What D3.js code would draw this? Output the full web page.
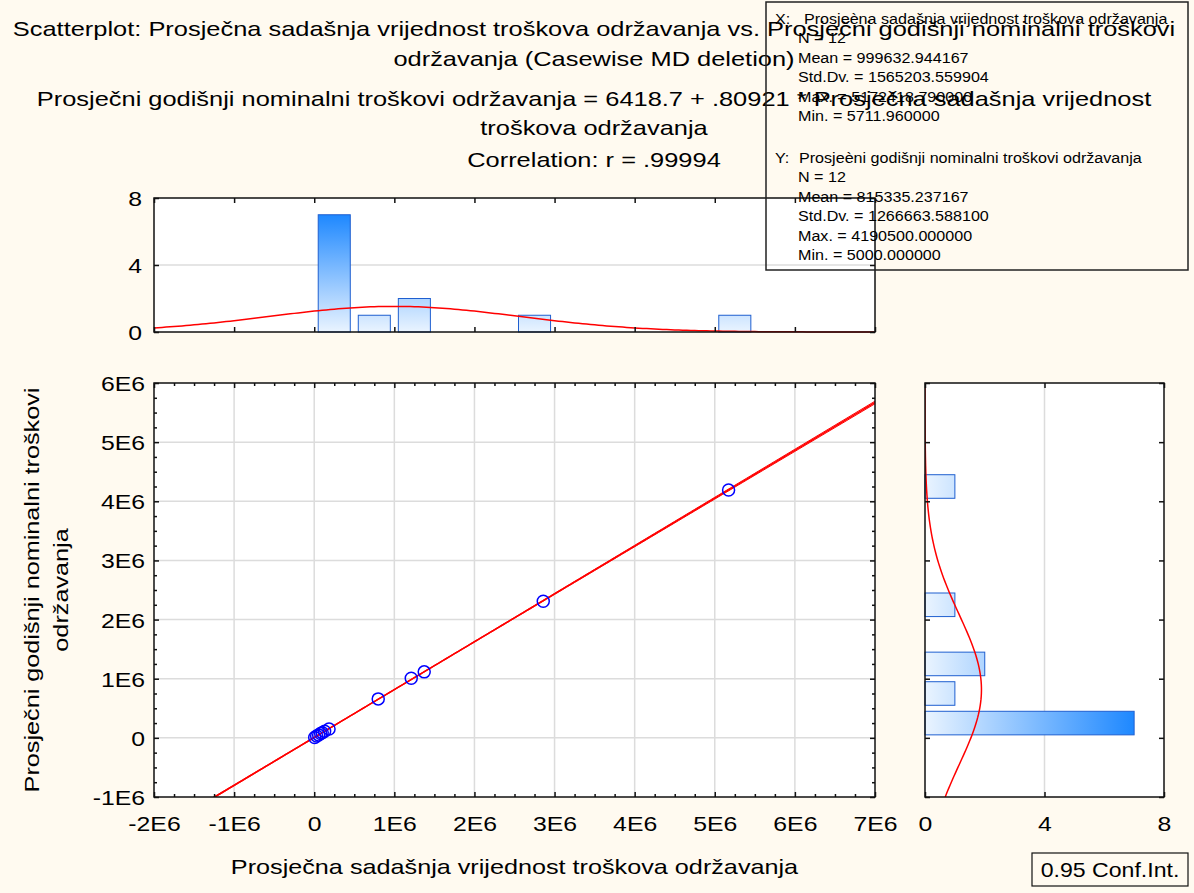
<!DOCTYPE html>
<html lang="en">
<head>
<meta charset="UTF-8">
<title>Scatterplot</title>
<script src="https://d3js.org/d3.v7.min.js"></script>
<style>
    body { margin: 0; background: #fffaf0; }
    svg { display: block; font-family: "Liberation Sans", Arial, sans-serif; }
</style>
</head>
<body>
<svg id="chart" width="1194" height="893"></svg>
<script>
// values
const xValues = [5712, 30000, 55000, 80000, 100000, 130000, 185000, 799000, 1211000, 1373000, 2859000, 5172419];
const yValues = [5000, 30000, 50000, 72000, 88000, 112000, 150000, 659000, 1008000, 1116000, 2310000, 4190500];

const fitIntercept = 6418.7;
const fitSlope = 0.80921;
const xMean = 999632.944167, xSd = 1565203.559904;
const yMean = 815335.237167, ySd = 1266663.588100;
const tCrit = 2.228;

const xTicks = [-2e6, -1e6, 0, 1e6, 2e6, 3e6, 4e6, 5e6, 6e6, 7e6];
const yTicks = [-1e6, 0, 1e6, 2e6, 3e6, 4e6, 5e6, 6e6];
const countTicks = [0, 4, 8];
const binWidth = 5e5;

const titleLines = [
    "Scatterplot: Prosječna sadašnja vrijednost troškova održavanja vs. Prosječni godišnji nominalni troškovi",
    "održavanja (Casewise MD deletion)",
    "Prosječni godišnji nominalni troškovi održavanja = 6418.7 + .80921 * Prosječna sadašnja vrijednost",
    "troškova održavanja",
    "Correlation: r = .99994"
];
const xLabel = "Prosječna sadašnja vrijednost troškova održavanja";
const yLabelLines = ["Prosječni godišnji nominalni troškovi", "održavanja"];
const xStatsName = "Prosjeèna sadašnja vrijednost troškova održavanja";
const yStatsName = "Prosjeèni godišnji nominalni troškovi održavanja";
const xStatsLines = ["N = 12", "Mean = 999632.944167", "Std.Dv. = 1565203.559904", "Max. = 5172418.790000", "Min. = 5711.960000"];
const yStatsLines = ["N = 12", "Mean = 815335.237167", "Std.Dv. = 1266663.588100", "Max. = 4190500.000000", "Min. = 5000.000000"];
const confLabel = "0.95 Conf.Int.";

function program() {
    const svg = d3.select("#chart");
    const defs = svg.append("defs");

    const x = d3.scaleLinear([-2e6, 7e6], [154, 875]);
    const y = d3.scaleLinear([-1e6, 6e6], [797, 383]);
    const yc = d3.scaleLinear([0, 8], [332, 198]);   // top histogram counts
    const xc = d3.scaleLinear([0, 8], [925, 1164]);  // right histogram counts

    const fmtE = d => d === 0 ? "0" : (d / 1e6) + "E6";
    const gridColor = "#dcdcdc";

    // wider-than-Arial text, as in the original
    function stretch(sel, k) {
        sel.each(function () {
            const w = this.getComputedTextLength();
            this.setAttribute("textLength", w * k);
            this.setAttribute("lengthAdjust", "spacingAndGlyphs");
        });
    }

    // white plot areas
    svg.append("rect").attr("x", x.range()[0]).attr("y", yc.range()[1])
        .attr("width", x.range()[1] - x.range()[0]).attr("height", yc.range()[0] - yc.range()[1]).attr("fill", "white");
    svg.append("rect").attr("x", x.range()[0]).attr("y", y.range()[1])
        .attr("width", x.range()[1] - x.range()[0]).attr("height", y.range()[0] - y.range()[1]).attr("fill", "white");
    svg.append("rect").attr("x", xc.range()[0]).attr("y", y.range()[1])
        .attr("width", xc.range()[1] - xc.range()[0]).attr("height", y.range()[0] - y.range()[1]).attr("fill", "white");

    defs.append("clipPath").attr("id", "clipMain").append("rect")
        .attr("x", x.range()[0]).attr("y", y.range()[1])
        .attr("width", x.range()[1] - x.range()[0]).attr("height", y.range()[0] - y.range()[1]);
    defs.append("clipPath").attr("id", "clipRight").append("rect")
        .attr("x", xc.range()[0]).attr("y", y.range()[1])
        .attr("width", xc.range()[1] - xc.range()[0]).attr("height", y.range()[0] - y.range()[1]);

    // gridlines
    const grid = svg.append("g").attr("stroke", gridColor).attr("stroke-width", 1.5);
    grid.selectAll(".gx").data(xTicks.slice(1, -1)).join("line")
        .attr("x1", d => x(d)).attr("x2", d => x(d)).attr("y1", y.range()[0]).attr("y2", y.range()[1]);
    grid.selectAll(".gy").data(yTicks.slice(1, -1)).join("line")
        .attr("class", "gy")
        .attr("y1", d => y(d)).attr("y2", d => y(d)).attr("x1", x.range()[0]).attr("x2", x.range()[1]);
    grid.append("line").attr("x1", x.range()[0]).attr("x2", x.range()[1]).attr("y1", yc(4)).attr("y2", yc(4));
    grid.append("line").attr("x1", xc(4)).attr("x2", xc(4)).attr("y1", y.range()[0]).attr("y2", y.range()[1]);

    // histograms
    const xBins = d3.bin().domain(x.domain()).thresholds(d3.range(-2e6, 7e6, binWidth))(xValues).filter(b => b.length > 0);
    const yBins = d3.bin().domain(y.domain()).thresholds(d3.range(-1e6, 6e6, binWidth))(yValues).filter(b => b.length > 0);

    const gradV = defs.append("linearGradient").attr("id", "gradV")
        .attr("gradientUnits", "userSpaceOnUse").attr("x1", 0).attr("x2", 0).attr("y1", yc(0)).attr("y2", yc(7));
    gradV.append("stop").attr("offset", 0).attr("stop-color", "#eaf4ff");
    gradV.append("stop").attr("offset", 1).attr("stop-color", "#1e88ff");
    const gradH = defs.append("linearGradient").attr("id", "gradH")
        .attr("gradientUnits", "userSpaceOnUse").attr("y1", 0).attr("y2", 0).attr("x1", xc(0)).attr("x2", xc(7));
    gradH.append("stop").attr("offset", 0).attr("stop-color", "#eaf4ff");
    gradH.append("stop").attr("offset", 1).attr("stop-color", "#1e88ff");

    svg.append("g").selectAll("rect").data(xBins).join("rect")
        .attr("x", d => x(d.x0) + 4).attr("width", d => x(d.x1) - x(d.x0) - 8)
        .attr("y", d => yc(d.length)).attr("height", d => yc(0) - yc(d.length))
        .attr("fill", "url(#gradV)").attr("stroke", "#1f5fd0").attr("stroke-width", 1);

    svg.append("g").selectAll("rect").data(yBins).join("rect")
        .attr("y", d => y(d.x1) + 3).attr("height", d => y(d.x0) - y(d.x1) - 6)
        .attr("x", xc(0)).attr("width", d => xc(d.length) - xc(0))
        .attr("fill", "url(#gradH)").attr("stroke", "#1f5fd0").attr("stroke-width", 1);

    // fitted normal curves
    const n = xValues.length;
    const normal = (v, m, s) => n * binWidth * Math.exp(-0.5 * ((v - m) / s) ** 2) / (s * Math.sqrt(2 * Math.PI));
    const xs = d3.range(-2e6, 7e6 + 1, 5e4);
    const ys = d3.range(-1e6, 6e6 + 1, 5e4);
    svg.append("path").datum(xs)
        .attr("d", d3.line().x(d => x(d)).y(d => yc(normal(d, xMean, xSd))))
        .attr("fill", "none").attr("stroke", "red").attr("stroke-width", 1.5);
    svg.append("path").datum(ys).attr("clip-path", "url(#clipRight)")
        .attr("d", d3.line().x(d => xc(normal(d, yMean, ySd))).y(d => y(d)))
        .attr("fill", "none").attr("stroke", "red").attr("stroke-width", 1.5);

    // regression line and 0.95 confidence band
    const mx = d3.mean(xValues);
    const sxx = d3.sum(xValues, v => (v - mx) ** 2);
    const sse = d3.sum(xValues, (v, i) => (yValues[i] - (fitIntercept + fitSlope * v)) ** 2);
    const se = Math.sqrt(sse / (n - 2));
    const half = v => tCrit * se * Math.sqrt(1 / n + (v - mx) ** 2 / sxx);
    const fitG = svg.append("g").attr("clip-path", "url(#clipMain)").attr("fill", "none").attr("stroke", "red");
    fitG.append("path").datum(xs).attr("stroke-width", 1.5)
        .attr("d", d3.line().x(d => x(d)).y(d => y(fitIntercept + fitSlope * d)));
    [-1, 1].forEach(sgn => {
        fitG.append("path").datum(xs).attr("stroke-width", 1)
            .attr("d", d3.line().x(d => x(d)).y(d => y(fitIntercept + fitSlope * d + sgn * half(d))));
    });

    // points
    svg.append("g").selectAll("circle").data(xValues).join("circle")
        .attr("cx", d => x(d)).attr("cy", (d, i) => y(yValues[i])).attr("r", 6)
        .attr("fill", "none").attr("stroke", "#0000ff").attr("stroke-width", 1.5);

    // frames
    const frame = svg.append("g").attr("fill", "none").attr("stroke", "#111").attr("stroke-width", 1.5);
    frame.append("rect").attr("x", x.range()[0]).attr("y", yc.range()[1])
        .attr("width", x.range()[1] - x.range()[0]).attr("height", yc.range()[0] - yc.range()[1]);
    frame.append("rect").attr("x", x.range()[0]).attr("y", y.range()[1])
        .attr("width", x.range()[1] - x.range()[0]).attr("height", y.range()[0] - y.range()[1]);
    frame.append("rect").attr("x", xc.range()[0]).attr("y", y.range()[1])
        .attr("width", xc.range()[1] - xc.range()[0]).attr("height", y.range()[0] - y.range()[1]);

    // axes: inward ticks, labels where needed
    function addAxis(axis, tx, ty, values, size, fmt) {
        const g = svg.append("g").attr("transform", `translate(${tx},${ty})`)
            .call(axis.tickValues(values).tickSize(size).tickSizeOuter(0).tickFormat(fmt || ""));
        g.attr("font-size", null).attr("font-family", null);
        g.select(".domain").remove();
        g.selectAll(".tick line").attr("stroke", "#111").attr("stroke-width", 1.5);
        g.selectAll("text").attr("fill", "black").style("font-size", "21px");
        return g;
    }
    const xMinor = d3.range(-2e6, 7e6, 2.5e5).filter(v => v % 1e6 !== 0);
    const yMinor = d3.range(-1e6, 6e6, 2.5e5).filter(v => v % 1e6 !== 0);

    const gxb = addAxis(d3.axisBottom(x), 0, y.range()[0], xTicks, -5, fmtE);
    gxb.selectAll("text").attr("y", 34).attr("dy", 0);
    stretch(gxb.selectAll("text"), 1.18);
    addAxis(d3.axisBottom(x), 0, y.range()[0], xMinor, -3);
    addAxis(d3.axisTop(x), 0, y.range()[1], xTicks, -5);
    addAxis(d3.axisTop(x), 0, y.range()[1], xMinor, -3);
    const gyl = addAxis(d3.axisLeft(y), x.range()[0], 0, yTicks, -5, fmtE);
    gyl.selectAll("text").attr("x", -9).attr("dy", "0.36em");
    stretch(gyl.selectAll("text"), 1.18);
    addAxis(d3.axisLeft(y), x.range()[0], 0, yMinor, -3);
    addAxis(d3.axisRight(y), x.range()[1], 0, yTicks, -5);
    addAxis(d3.axisRight(y), x.range()[1], 0, yMinor, -3);

    // top histogram axes
    const gcl = addAxis(d3.axisLeft(yc), x.range()[0], 0, countTicks, -5, d3.format("d"));
    gcl.selectAll("text").attr("x", -12).attr("dy", "0.36em");
    stretch(gcl.selectAll("text"), 1.18);
    addAxis(d3.axisRight(yc), x.range()[1], 0, countTicks, -5);
    addAxis(d3.axisTop(x), 0, yc.range()[1], xTicks, -5);
    addAxis(d3.axisBottom(x), 0, yc.range()[0], xTicks, -5);

    // right histogram axes
    const gcb = addAxis(d3.axisBottom(xc), 0, y.range()[0], countTicks, -5, d3.format("d"));
    gcb.selectAll("text").attr("y", 34).attr("dy", 0);
    stretch(gcb.selectAll("text"), 1.18);
    addAxis(d3.axisTop(xc), 0, y.range()[1], countTicks, -5);
    addAxis(d3.axisLeft(y), xc.range()[0], 0, yTicks, -5);
    addAxis(d3.axisRight(y), xc.range()[1], 0, yTicks, -5);

    // axis titles
    const xt = svg.append("text").attr("x", (x.range()[0] + x.range()[1]) / 2).attr("y", 874)
        .attr("text-anchor", "middle").style("font-size", "21px").text(xLabel);
    stretch(xt, 1.2);
    const yt = svg.append("g").attr("transform", `translate(0,${(y.range()[0] + y.range()[1]) / 2}) rotate(-90)`)
        .selectAll("text").data(yLabelLines).join("text")
        .attr("x", 0).attr("y", (d, i) => 39 + i * 29)
        .attr("text-anchor", "middle").style("font-size", "21px").text(d => d);
    stretch(yt, 1.2);

    // title
    const tt = svg.append("g").selectAll("text").data(titleLines).join("text")
        .attr("x", 594).attr("y", (d, i) => [36, 66, 106, 135, 167][i])
        .attr("text-anchor", "middle").style("font-size", "21px").text(d => d);
    stretch(tt, 1.21);

    // stats box
    svg.append("rect").attr("x", 766).attr("y", 2).attr("width", 422).attr("height", 268)
        .attr("fill", "none").attr("stroke", "#222").attr("stroke-width", 1.5);
    const box = svg.append("g").style("font-size", "14px");
    const addStats = (label, name, lines, top) => {
        const t1 = box.append("text").attr("x", 775).attr("y", top).text(label);
        const t2 = box.append("text").attr("x", label === "X:" ? 804 : 799).attr("y", top).text(name);
        const t3 = box.selectAll(null).data(lines).join("text")
            .attr("x", 798).attr("y", (d, i) => top + (i + 1) * 19.4).text(d => d);
        [t1, t2, t3].forEach(s => stretch(s, 1.15));
    };
    addStats("X:", xStatsName, xStatsLines, 24);
    addStats("Y:", yStatsName, yStatsLines, 163);

    // conf. int. box
    svg.append("rect").attr("x", 1032).attr("y", 853).attr("width", 156).attr("height", 33)
        .attr("fill", "none").attr("stroke", "#111").attr("stroke-width", 1.2);
    const ct = svg.append("text").attr("x", 1110).attr("y", 877).attr("text-anchor", "middle")
        .style("font-size", "21px").text(confLabel);
    stretch(ct, 1.1);
}

program();
</script>
</body>
</html>
